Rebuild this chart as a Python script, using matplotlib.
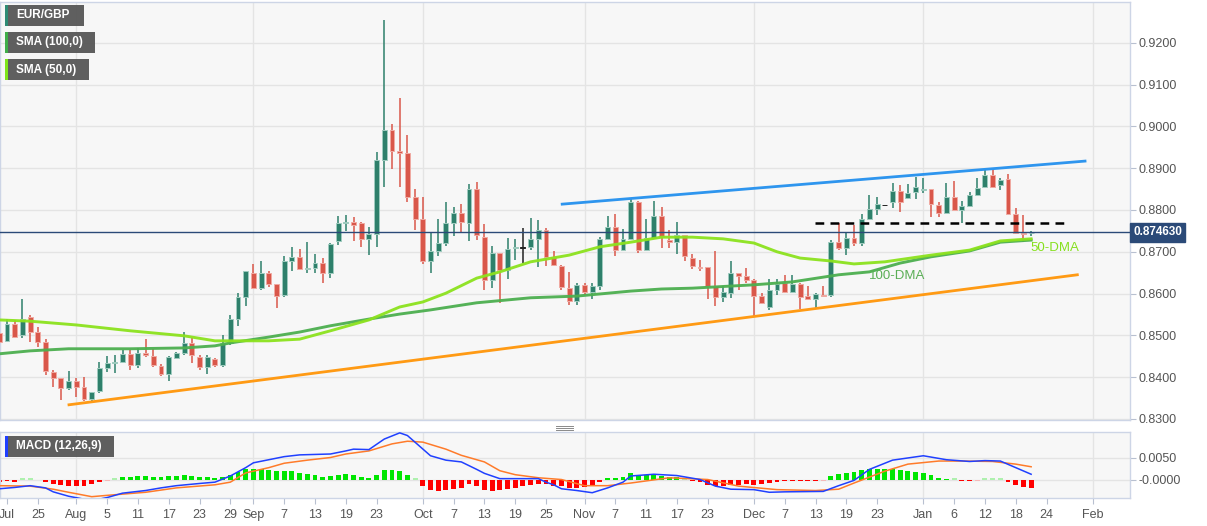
import numpy as np
import pandas as pd
import matplotlib
matplotlib.use("Agg")
import matplotlib.pyplot as plt
from matplotlib.patches import Rectangle
from matplotlib.lines import Line2D

plt.rcParams["font.family"] = ["Liberation Sans", "DejaVu Sans"]

# ---- data: EUR/GBP daily candles, 18 Jul 2022 -> 20 Jan 2023 (weekdays) ----
dates = pd.bdate_range("2022-07-18", "2023-01-20")
opens = [0.8505, 0.8487, 0.8527, 0.8501, 0.8543, 0.8509, 0.8485, 0.8413, 0.8397, 0.8375,
         0.8390, 0.8376, 0.8349, 0.8366, 0.8423, 0.8435, 0.8437, 0.8456, 0.8429, 0.8457,
         0.8451, 0.8427, 0.8408, 0.8447, 0.8458, 0.8483, 0.8449, 0.8425, 0.8444, 0.8429,
         0.8483, 0.8539, 0.8591, 0.8650, 0.8613, 0.8649, 0.8622, 0.8597, 0.8678, 0.8687,
         0.8660, 0.8662, 0.8673, 0.8649, 0.8725, 0.8771, 0.8772, 0.8770, 0.8730, 0.8742,
         0.8920, 0.8992, 0.8940, 0.8937, 0.8831, 0.8778, 0.8677, 0.8703, 0.8722, 0.8770,
         0.8794, 0.8770, 0.8850, 0.8735, 0.8633, 0.8697, 0.8657, 0.8708, 0.8711, 0.8711,
         0.8731, 0.8752, 0.8687, 0.8666, 0.8614, 0.8583, 0.8621, 0.8603, 0.8619, 0.8731,
         0.8760, 0.8705, 0.8731, 0.8820, 0.8705, 0.8732, 0.8786, 0.8728, 0.8724, 0.8740,
         0.8685, 0.8665, 0.8663, 0.8618, 0.8593, 0.8602, 0.8649, 0.8642, 0.8633, 0.8595,
         0.8567, 0.8609, 0.8625, 0.8605, 0.8623, 0.8595, 0.8587, 0.8598, 0.8596, 0.8724,
         0.8708, 0.8732, 0.8720, 0.8778, 0.8802, 0.8812, 0.8818, 0.8846, 0.8828, 0.8842,
         0.8848, 0.8850, 0.8812, 0.8794, 0.8832, 0.8800, 0.8810, 0.8836, 0.8854, 0.8884,
         0.8860, 0.8873, 0.8791, 0.8746, 0.8745]
highs = [0.8513, 0.8539, 0.8537, 0.8586, 0.8549, 0.8521, 0.8491, 0.8417, 0.8397, 0.8415,
         0.8399, 0.8400, 0.8365, 0.8437, 0.8451, 0.8453, 0.8464, 0.8465, 0.8469, 0.8491,
         0.8467, 0.8432, 0.8451, 0.8461, 0.8509, 0.8493, 0.8453, 0.8453, 0.8445, 0.8501,
         0.8549, 0.8602, 0.8655, 0.8671, 0.8678, 0.8655, 0.8624, 0.8689, 0.8711, 0.8706,
         0.8723, 0.8695, 0.8685, 0.8720, 0.8786, 0.8787, 0.8783, 0.8772, 0.8760, 0.8938,
         0.9255, 0.9006, 0.9067, 0.8979, 0.8850, 0.8831, 0.8744, 0.8778, 0.8820, 0.8807,
         0.8815, 0.8862, 0.8866, 0.8766, 0.8714, 0.8697, 0.8732, 0.8730, 0.8756, 0.8780,
         0.8776, 0.8756, 0.8703, 0.8668, 0.8651, 0.8625, 0.8625, 0.8625, 0.8736, 0.8786,
         0.8790, 0.8754, 0.8828, 0.8822, 0.8778, 0.8822, 0.8806, 0.8752, 0.8772, 0.8741,
         0.8695, 0.8681, 0.8664, 0.8702, 0.8617, 0.8677, 0.8650, 0.8661, 0.8634, 0.8601,
         0.8634, 0.8634, 0.8645, 0.8645, 0.8626, 0.8618, 0.8601, 0.8617, 0.8728, 0.8770,
         0.8746, 0.8764, 0.8791, 0.8836, 0.8832, 0.8812, 0.8864, 0.8860, 0.8862, 0.8878,
         0.8876, 0.8850, 0.8820, 0.8864, 0.8870, 0.8822, 0.8844, 0.8876, 0.8896, 0.8896,
         0.8876, 0.8886, 0.8804, 0.8788, 0.8750]
lows = [0.8482, 0.8485, 0.8493, 0.8493, 0.8485, 0.8473, 0.8405, 0.8376, 0.8346, 0.8370,
        0.8352, 0.8342, 0.8344, 0.8363, 0.8412, 0.8409, 0.8433, 0.8417, 0.8421, 0.8448,
        0.8424, 0.8403, 0.8390, 0.8445, 0.8453, 0.8433, 0.8417, 0.8408, 0.8424, 0.8424,
        0.8477, 0.8523, 0.8571, 0.8610, 0.8608, 0.8615, 0.8565, 0.8593, 0.8655, 0.8657,
        0.8649, 0.8649, 0.8625, 0.8637, 0.8717, 0.8749, 0.8727, 0.8711, 0.8693, 0.8711,
        0.8854, 0.8897, 0.8854, 0.8819, 0.8752, 0.8671, 0.8649, 0.8690, 0.8713, 0.8737,
        0.8746, 0.8725, 0.8729, 0.8609, 0.8613, 0.8577, 0.8634, 0.8681, 0.8673, 0.8705,
        0.8663, 0.8665, 0.8665, 0.8609, 0.8573, 0.8573, 0.8597, 0.8587, 0.8609, 0.8729,
        0.8690, 0.8703, 0.8729, 0.8698, 0.8703, 0.8730, 0.8708, 0.8708, 0.8695, 0.8677,
        0.8658, 0.8653, 0.8587, 0.8571, 0.8579, 0.8589, 0.8609, 0.8625, 0.8545, 0.8575,
        0.8561, 0.8597, 0.8601, 0.8601, 0.8563, 0.8585, 0.8565, 0.8593, 0.8593, 0.8704,
        0.8693, 0.8714, 0.8714, 0.8777, 0.8788, 0.8812, 0.8804, 0.8796, 0.8826, 0.8826,
        0.8840, 0.8784, 0.8784, 0.8792, 0.8799, 0.8768, 0.8808, 0.8834, 0.8852, 0.8852,
        0.8848, 0.8791, 0.8743, 0.8724, 0.8738]
closes = [0.8485, 0.8527, 0.8495, 0.8539, 0.8509, 0.8485, 0.8416, 0.8397, 0.8373, 0.8390,
          0.8376, 0.8349, 0.8365, 0.8421, 0.8434, 0.8437, 0.8456, 0.8429, 0.8457, 0.8453,
          0.8429, 0.8408, 0.8448, 0.8458, 0.8483, 0.8452, 0.8425, 0.8448, 0.8429, 0.8483,
          0.8539, 0.8591, 0.8653, 0.8614, 0.8649, 0.8623, 0.8595, 0.8677, 0.8687, 0.8660,
          0.8662, 0.8673, 0.8649, 0.8718, 0.8768, 0.8773, 0.8764, 0.8730, 0.8742, 0.8920,
          0.8992, 0.8940, 0.8937, 0.8831, 0.8778, 0.8677, 0.8703, 0.8721, 0.8770, 0.8794,
          0.8772, 0.8850, 0.8741, 0.8633, 0.8697, 0.8657, 0.8707, 0.8711, 0.8711, 0.8731,
          0.8752, 0.8687, 0.8669, 0.8615, 0.8583, 0.8621, 0.8603, 0.8619, 0.8731, 0.8760,
          0.8705, 0.8731, 0.8820, 0.8705, 0.8732, 0.8786, 0.8735, 0.8724, 0.8740, 0.8689,
          0.8665, 0.8663, 0.8618, 0.8593, 0.8605, 0.8650, 0.8642, 0.8633, 0.8595, 0.8577,
          0.8609, 0.8623, 0.8605, 0.8623, 0.8591, 0.8587, 0.8598, 0.8596, 0.8724, 0.8708,
          0.8732, 0.8720, 0.8778, 0.8802, 0.8814, 0.8812, 0.8846, 0.8818, 0.8840, 0.8856,
          0.8850, 0.8814, 0.8794, 0.8832, 0.8800, 0.8810, 0.8836, 0.8852, 0.8884, 0.8854,
          0.8872, 0.8791, 0.8746, 0.8743, 0.87463]
last_price = 0.874630

# moving averages, sampled (trading day number from 18 Jul 2022, value)
sma50_day = [0, 4, 10, 17, 24, 28, 35, 39, 43, 48, 52, 55, 58, 62, 65, 69, 74, 78, 82, 86,
             90, 94, 98, 101, 104, 108, 111, 115, 121, 126, 130, 134]
sma50_val = [0.8537, 0.8534, 0.8525, 0.8511, 0.8499, 0.8487, 0.8487, 0.8491, 0.8511, 0.8537,
             0.8568, 0.8580, 0.8601, 0.8637, 0.8652, 0.8676, 0.8692, 0.8712, 0.8723, 0.8735,
             0.8735, 0.8731, 0.8721, 0.8700, 0.8685, 0.8678, 0.8671, 0.8676, 0.8692, 0.8704,
             0.8726, 0.8731]
sma100_day = [0, 4, 9, 17, 24, 28, 30, 35, 39, 43, 48, 52, 56, 62, 69, 75, 82, 86, 90, 98,
              103, 109, 113, 117, 121, 126, 130, 134]
sma100_val = [0.8456, 0.8463, 0.8468, 0.8468, 0.8470, 0.8475, 0.8482, 0.8496, 0.8508, 0.8523,
              0.8539, 0.8551, 0.8561, 0.8578, 0.8590, 0.8594, 0.8606, 0.8611, 0.8613, 0.8621,
              0.8628, 0.8645, 0.8652, 0.8673, 0.8688, 0.8702, 0.8723, 0.8728]

# drawn trend lines (trading day, price)
resist_day, resist_val = [73.1, 141.0], [0.8814, 0.8917]
support_day, support_val = [9.05, 140.0], [0.8334, 0.8645]
level_day, level_val = [105.9, 138.8], 0.8770

# MACD (12,26,9)
macd_day = [0, 2, 4, 6, 7, 9, 12, 14, 16, 19, 21, 23, 26, 28, 30, 32, 33, 35, 37, 39, 41, 43,
            45, 46, 48, 50, 52, 53, 56, 58, 60, 62, 63, 65, 67, 70, 71, 72, 73, 75, 77, 79,
            81, 82, 85, 88, 91, 93, 95, 98, 100, 102, 107, 109, 111, 113, 116, 120, 123, 126,
            128, 130, 132, 134]
macd_val = [-0.0021, -0.0018, -0.0014, -0.0019, -0.0028, -0.0038, -0.0048, -0.0041, -0.0031,
            -0.0025, -0.0019, -0.0014, -0.0009, -0.0006, 0.0008, 0.0027, 0.0038, 0.0045,
            0.0052, 0.0056, 0.0057, 0.0058, 0.0065, 0.0069, 0.0068, 0.0092, 0.0106, 0.0100,
            0.0054, 0.0044, 0.0040, 0.0023, 0.0014, 0.0002, 0.0002, 0.0002, -0.0006, -0.0012,
            -0.0021, -0.0025, -0.0030, -0.0019, -0.0006, 0.0008, 0.0012, 0.0009, 0.0000,
            -0.0015, -0.0022, -0.0023, -0.0029, -0.0028, -0.0027, -0.0014, -0.0002, 0.0023,
            0.0044, 0.0054, 0.0045, 0.0041, 0.0043, 0.0042, 0.0027, 0.0012]
signal_day = [0, 4, 7, 9, 12, 14, 19, 23, 28, 30, 32, 35, 37, 40, 43, 45, 48, 51, 53, 55, 58,
              60, 63, 65, 67, 70, 73, 76, 79, 82, 87, 92, 96, 101, 106, 109, 111, 115, 118,
              122, 125, 129, 132, 134]
signal_val = [-0.0014, -0.0015, -0.0022, -0.0029, -0.0039, -0.0036, -0.0029, -0.0019, -0.0012,
              -0.0006, 0.0015, 0.0027, 0.0037, 0.0044, 0.0050, 0.0058, 0.0065, 0.0081, 0.0087,
              0.0085, 0.0069, 0.0055, 0.0040, 0.0020, 0.0011, 0.0004, 0.0000, -0.0014, -0.0014,
              -0.0008, 0.0004, 0.0000, -0.0015, -0.0023, -0.0025, -0.0022, -0.0008, 0.0019,
              0.0035, 0.0042, 0.0042, 0.0041, 0.0035, 0.0029]
hist = [-0.00062, -0.00038, -0.00046, 0.00005, 0.00005, -0.0002, -0.0006, -0.00092, -0.0013, -0.00138,
        -0.00138, -0.00138, -0.00108, -0.00046, -0.00005, 0.00005, 0.00054, 0.00054, 0.00077, 0.00077,
        0.00062, 0.00054, 0.00069, 0.00077, 0.00092, 0.00069, 0.00054, 0.00046, 0.00038, 0.00054,
        0.00092, 0.00169, 0.0023, 0.00246, 0.00246, 0.00215, 0.00185, 0.00192, 0.00192, 0.00154,
        0.00115, 0.00092, 0.00062, 0.00077, 0.00092, 0.00115, 0.001, 0.00062, 0.00038, 0.00108,
        0.00215, 0.00215, 0.002, 0.00092, 0.00005, -0.00154, -0.0023, -0.00254, -0.0023, -0.00208,
        -0.00192, -0.00092, -0.00138, -0.00246, -0.00254, -0.0023, -0.00208, -0.00192, -0.00154, -0.00115,
        -0.00092, -0.00092, -0.00138, -0.00154, -0.00192, -0.00192, -0.00177, -0.00154, -0.00046, 0.0003,
        0.00038, 0.0006, 0.00138, 0.001, 0.001, 0.00115, 0.00085, 0.0006, 0.0006, 0.00005,
        -0.00023, -0.0006, -0.00115, -0.00154, -0.00138, -0.00115, -0.00115, -0.00108, -0.00115, -0.00092,
        -0.00077, -0.00046, -0.00038, -0.00031, -0.00031, -0.00031, -0.00023, -0.00005, 0.00077, 0.00115,
        0.00154, 0.00169, 0.00208, 0.0023, 0.00246, 0.00246, 0.0023, 0.00208, 0.00192, 0.00169,
        0.00154, 0.00092, 0.00038, 0.00023, 0.00005, -0.00023, -0.00023, -0.00005, 0.00005, 0.00005,
        0.00005, -0.00054, -0.0013, -0.0017, -0.00192]

# x axis labels
tick_dates = ["2022-07-19", "2022-07-25", "2022-08-01", "2022-08-05", "2022-08-11", "2022-08-17",
              "2022-08-23", "2022-08-29", "2022-09-01", "2022-09-07", "2022-09-13", "2022-09-19",
              "2022-09-23", "2022-10-03", "2022-10-07", "2022-10-13", "2022-10-19", "2022-10-25",
              "2022-11-01", "2022-11-07", "2022-11-11", "2022-11-17", "2022-11-23", "2022-12-01",
              "2022-12-07", "2022-12-13", "2022-12-19", "2022-12-23", "2023-01-02", "2023-01-06",
              "2023-01-12", "2023-01-18", "2023-01-24", "2023-02-01"]
tick_labels = ["Jul", "25", "Aug", "5", "11", "17", "23", "29", "Sep", "7", "13", "19", "23",
               "Oct", "7", "13", "19", "25", "Nov", "7", "11", "17", "23", "Dec", "7", "13",
               "19", "23", "Jan", "6", "12", "18", "24", "Feb"]
month_starts = ["2022-08-01", "2022-09-01", "2022-10-03", "2022-11-01", "2022-12-01",
                "2023-01-02", "2023-02-01"]
price_ticks = [0.83, 0.84, 0.85, 0.86, 0.87, 0.88, 0.89, 0.90, 0.91, 0.92]
macd_ticks = [0.005, 0.0]
macd_tick_labels = ["0.0050", "-0.0000"]

# ---- layout helpers (pixel -> figure fraction) ----
W, H = 1207, 526
calendar = pd.bdate_range("2022-07-18", "2023-02-10")


def day_of(d):
    return calendar.get_loc(pd.Timestamp(d))


def fig_rect(x, y, w, h):
    return (x / W, 1 - (y + h) / H), w / W, h / H


GRID = "#e4e4e4"
BORDER = "#cdd5e6"
TXT = "#555555"
UP, DOWN, FLAT = "#2e806b", "#d9574a", "#222222"

fig = plt.figure(figsize=(W / 100, H / 100), dpi=100)
fig.patch.set_facecolor("white")
ax = fig.add_axes([0, 1 - 420 / H, 1130 / W, 418 / H])
mx = fig.add_axes([0, 1 - 498 / H, 1130 / W, 66 / H])

xlim = (0.09, 146.84)
for a in (ax, mx):
    a.set_facecolor("#f7f7f7")
    a.set_xlim(*xlim)
    for s in a.spines.values():
        s.set_color(BORDER)
        s.set_linewidth(1)
    for d in month_starts:
        a.axvline(day_of(d), color=GRID, lw=1, zorder=0)
    a.yaxis.tick_right()
    a.tick_params(axis="y", length=4, width=0.8, color="#b8c0d0", labelsize=9,
                  labelcolor=TXT, pad=2)

# ---- price panel ----
ax.set_ylim(0.82976, 0.92976)
ax.set_yticks(price_ticks)
ax.set_yticklabels([f"{v:.4f}" for v in price_ticks])
ax.set_xticks([])
for v in price_ticks:
    ax.axhline(v, color=GRID, lw=1, zorder=0)

o = np.array(opens)
hi = np.array(highs)
lo = np.array(lows)
c = np.array(closes)
pos = np.arange(len(dates))
cols = np.where(c > o, UP, np.where(c < o, DOWN, FLAT))
edges = np.where(c > o, "#9fcbbf", np.where(c < o, "#f0aaa2", FLAT))
ax.vlines(pos, lo, hi, colors=cols, lw=1.1, zorder=2)
body_h = np.maximum(np.abs(c - o), 0.00022)
body_b = np.minimum(o, c) - np.where(np.abs(c - o) < 0.00022, 0.00011, 0)
ax.bar(pos, body_h, bottom=body_b, width=0.64, color=cols, edgecolor=edges,
       linewidth=0.7, zorder=3)

ax.plot(sma100_day, sma100_val, color="#4caf4f", lw=2.1, alpha=0.95, zorder=4)
ax.plot(sma50_day, sma50_val, color="#8ce21e", lw=2.1, alpha=0.95, zorder=4)
ax.plot(resist_day, resist_val, color="#2e95ee", lw=2, zorder=4)
ax.plot(support_day, support_val, color="#ff9a14", lw=2, zorder=4)
ax.plot(level_day, [level_val, level_val], color="black", lw=1.8, dashes=(3.5, 2.5), zorder=4)
ax.axhline(last_price, color="#2b4a78", lw=1, zorder=5)

ax.text(116.6, 0.8642, "100-DMA", color="#5aae55", fontsize=9.5, ha="center", va="center", zorder=6)
ax.text(137.1, 0.8708, "50-DMA", color="#86e01e", fontsize=9.5, ha="center", va="center", zorder=6)

ax.text(1.0027, last_price, f"{last_price:.6f}", transform=ax.get_yaxis_transform(),
        color="white", fontsize=8.5, fontweight="bold", ha="left", va="center",
        bbox=dict(boxstyle="square,pad=0.28", fc="#2b4a78", ec="#2b4a78"), zorder=7)

# ---- MACD panel ----
mx.set_ylim(-0.0042, 0.0108)
mx.set_yticks(macd_ticks)
mx.set_yticklabels(macd_tick_labels)
for v in macd_ticks:
    mx.axhline(v, color=GRID, lw=1, zorder=0)
h = np.array(hist)
faint = np.abs(h) < 0.0001
hcol = np.where(h >= 0, np.where(faint, "#aef0ae", "#00e600"),
                np.where(faint, "#f5b8b8", "#ff0000"))
hdraw = np.where(faint, np.where(h >= 0, 0.0003, -0.0003), h)
mx.bar(pos, hdraw, width=0.64, color=hcol, zorder=2)
mx.plot(signal_day, signal_val, color="#ff7b2a", lw=1.1, zorder=3)
mx.plot(macd_day, macd_val, color="#2040ff", lw=1.1, zorder=4)

mx.set_xticks([day_of(d) for d in tick_dates])
mx.set_xticklabels(tick_labels)
mx.tick_params(axis="x", length=4, width=0.8, color="#b8c0d0", labelsize=9,
               labelcolor=TXT, pad=4)

# ---- legend boxes ----
boxes = [("EUR/GBP", 5, 5, 79, "#2e8b74"),
         ("SMA (100,0)", 5, 32, 90, "#3fae49"),
         ("SMA (50,0)", 5, 59, 84, "#7ee51a"),
         ("MACD (12,26,9)", 5, 436, 109, "#1f3fff")]
for label, x0, y0, w, strip in boxes:
    xy, ww, hh = fig_rect(x0, y0, w, 21)
    fig.add_artist(Rectangle(xy, ww, hh, transform=fig.transFigure,
                             facecolor="#575757", edgecolor="none", alpha=0.95, zorder=10))
    xy, ww, hh = fig_rect(x0, y0, 2.5, 21)
    fig.add_artist(Rectangle(xy, ww, hh, transform=fig.transFigure,
                             facecolor=strip, edgecolor="none", zorder=11))
    fig.text((x0 + 11) / W, 1 - (y0 + 10.5) / H, label, color="white", fontsize=8.5,
             fontweight="bold", ha="left", va="center", zorder=12)

# panel splitter handle
for yy in (425.5, 427.5, 429.5):
    fig.add_artist(Line2D([556 / W, 573 / W], [1 - yy / H, 1 - yy / H],
                          transform=fig.transFigure, color="#8a8a8a", lw=0.7))

fig.savefig("out.png", dpi=100, facecolor="white")
